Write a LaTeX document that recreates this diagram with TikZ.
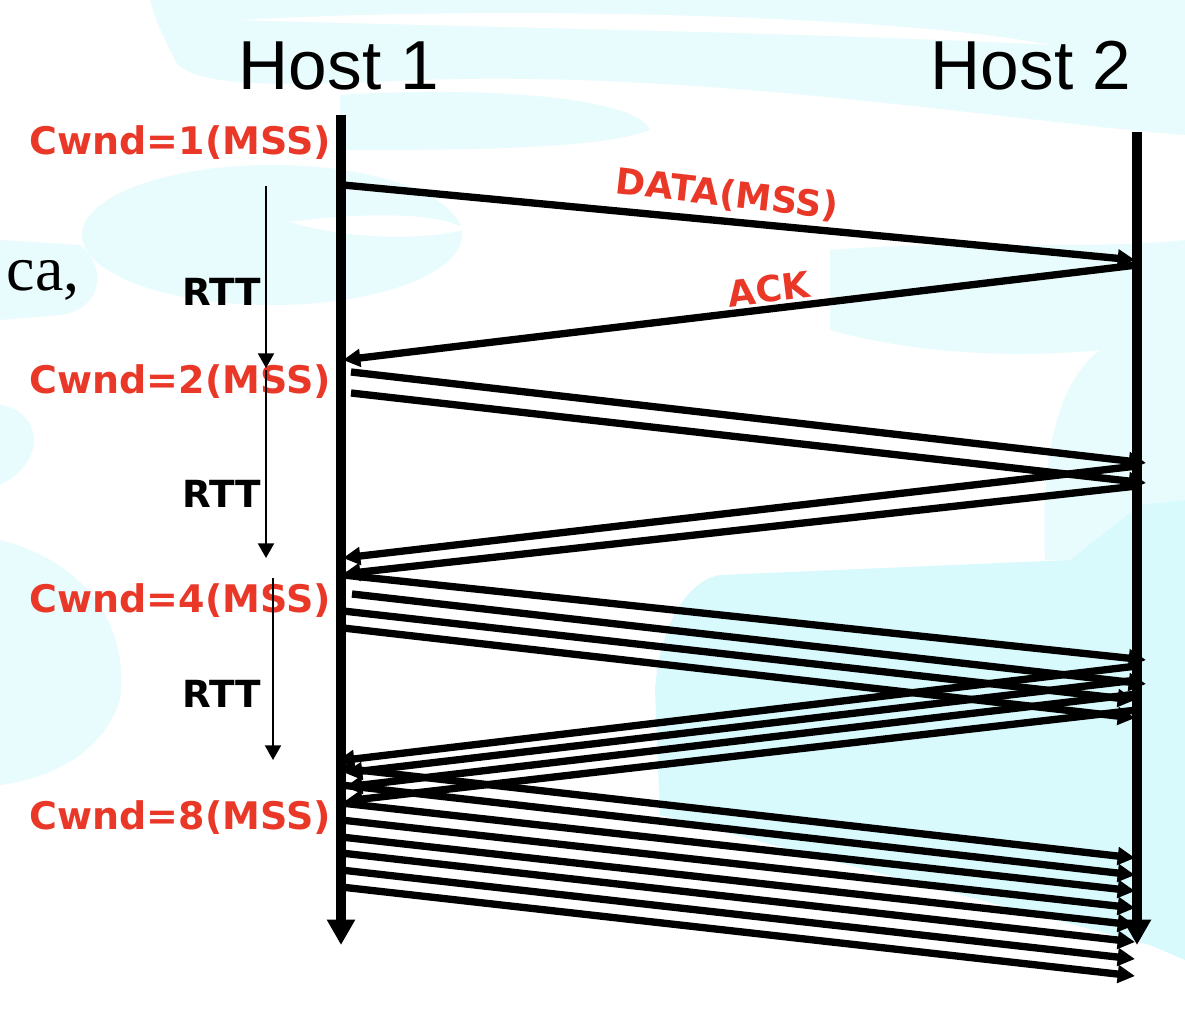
\documentclass[tikz,border=0pt]{standalone}
\usepackage{fontspec}
\setmainfont{Liberation Serif}
\newfontfamily\hostfont{Liberation Sans}
\newfontfamily\vfont{DejaVu Sans}
\usetikzlibrary{arrows.meta}
\definecolor{lblred}{RGB}{234,56,40}
\definecolor{bgA}{RGB}{233,252,253}
\definecolor{bgB}{RGB}{216,250,253}
\begin{document}
\begin{tikzpicture}[x=0.75pt,y=-0.75pt,
  hostline/.style={line width=7pt,-{Triangle[length=19pt,width=20pt]}},
  msg/.style={line width=5.5pt,-{Triangle[length=13pt,width=13pt]}},
  rttarrow/.style={line width=1.6pt,-{Triangle[length=11pt,width=12pt]}},
  hostlbl/.style={font=\hostfont\fontsize{52pt}{56pt}\selectfont,inner sep=0pt,anchor=base},
  cwnd/.style={font=\vfont\bfseries\fontsize{28.5pt}{31pt}\selectfont,text=lblred,inner sep=0pt,anchor=base east},
  rttlbl/.style={font=\vfont\bfseries\fontsize{28pt}{30pt}\selectfont,inner sep=0pt,anchor=base},
  msglbl/.style={font=\vfont\bfseries\fontsize{27pt}{30pt}\selectfont,text=lblred,inner sep=0pt},
]
\useasboundingbox (0,0) rectangle (1185,1013);
\fill[white] (0,0) rectangle (1185,1013);
% background swirls
\fill[bgA] (150,0) -- (1185,0) -- (1185,135) .. controls (1000,120) and (700,70) .. (420,80)
  .. controls (300,85) and (190,90) .. (175,60) .. controls (165,40) and (155,20) .. (150,0) -- cycle;
\fill[white] (240,20) .. controls (500,5) and (900,15) .. (1050,45) .. controls (800,32) and (500,28) .. (240,20) -- cycle;
\fill[bgA] (340,95) .. controls (500,85) and (640,100) .. (650,130) .. controls (600,150) and (450,150) .. (340,150) -- cycle;
\fill[bgA] (272,235) ellipse [x radius=190, y radius=70];
\fill[white] (290,222) .. controls (380,210) and (450,215) .. (465,230) .. controls (420,240) and (350,240) .. (290,222) -- cycle;
\fill[bgA] (0,240) -- (80,245) .. controls (110,270) and (100,310) .. (60,315) -- (0,320) -- cycle;
\fill[bgA] (0,405) .. controls (40,410) and (50,460) .. (0,485) -- cycle;
\fill[bgA] (830,250) .. controls (950,240) and (1100,250) .. (1185,240) -- (1185,560) -- (1045,560)
  .. controls (1040,450) and (1060,380) .. (1100,350) .. controls (1000,360) and (900,350) .. (830,330) -- cycle;
\fill[bgA] (0,540) .. controls (80,560) and (130,620) .. (120,700) .. controls (100,760) and (40,780) .. (0,785) -- cycle;
\fill[bgB] (655,690) .. controls (660,620) and (690,580) .. (720,575) -- (1070,560) -- (1140,505) -- (1185,500)
  -- (1185,960) -- (1150,945) -- (660,815) -- cycle;
% hosts
\coordinate (h1top) at (341,115);
\coordinate (h1bot) at (341,945);
\coordinate (h2top) at (1137,132);
\coordinate (h2bot) at (1137,945);
\node[hostlbl] (host1) at (339,90) {Host 1};
\node[hostlbl] (host2) at (1031,90) {Host 2};
\draw[hostline] (h1top) -- (h1bot);
\draw[hostline,line width=7.5pt] (h2top) -- (h2bot);
% labels
\node[font=\fontsize{48pt}{52pt}\selectfont,inner sep=0pt,anchor=base east] (ca) at (80,290) {ca,};
\node[cwnd] (c1) at (331,155) {Cwnd=1(MSS)};
\node[cwnd] (c2) at (331,393) {Cwnd=2(MSS)};
\node[cwnd] (c4) at (331,612) {Cwnd=4(MSS)};
\node[cwnd] (c8) at (331,829) {Cwnd=8(MSS)};
\node[rttlbl] (r1) at (222,305) {RTT};
\node[rttlbl] (r2) at (222,507) {RTT};
\node[rttlbl] (r3) at (222,707) {RTT};
% RTT arrows
\coordinate (ra1) at (266,186); \coordinate (rb1) at (266,368);
\coordinate (ra2) at (266,370); \coordinate (rb2) at (266,558);
\coordinate (ra3) at (273,578); \coordinate (rb3) at (273,760);
\draw[rttarrow] (ra1) -- (rb1);
\draw[rttarrow] (ra2) -- (rb2);
\draw[rttarrow] (ra3) -- (rb3);
% round 1
\coordinate (d1s) at (343,185); \coordinate (d1e) at (1135,260);
\coordinate (a1s) at (1137,265); \coordinate (a1e) at (343,360);
\draw[msg] (d1s) -- (d1e);
\draw[msg] (a1s) -- (a1e);
\node[msglbl,rotate=-6.5] (datalbl) at (727,195) {DATA(MSS)};
\node[msglbl,rotate=7] (acklbl) at (769,289) {ACK};
% round 2
\coordinate (d2as) at (351,372); \coordinate (d2ae) at (1146,463);
\coordinate (d2bs) at (351,393); \coordinate (d2be) at (1146,483);
\coordinate (a2as) at (1137,466); \coordinate (a2ae) at (343,558);
\coordinate (a2bs) at (1137,486); \coordinate (a2be) at (343,574);
\draw[msg] (d2as) -- (d2ae);
\draw[msg] (d2bs) -- (d2be);
\draw[msg] (a2as) -- (a2ae);
\draw[msg] (a2bs) -- (a2be);
% round 3
\coordinate (d3as) at (343,575); \coordinate (d3ae) at (1146,660);
\coordinate (d3bs) at (352,594); \coordinate (d3be) at (1146,684);
\coordinate (d3cs) at (343,611); \coordinate (d3ce) at (1135,700);
\coordinate (d3ds) at (343,628); \coordinate (d3de) at (1135,718);
\coordinate (a3as) at (1137,666); \coordinate (a3ae) at (337,761);
\coordinate (a3bs) at (1137,680); \coordinate (a3be) at (345,773);
\coordinate (a3cs) at (1137,694); \coordinate (a3ce) at (345,787);
\coordinate (a3ds) at (1137,710); \coordinate (a3de) at (345,801);
\foreach \m in {d3a,d3b,d3c,d3d,a3a,a3b,a3c,a3d}
  \draw[msg] (\m s) -- (\m e);
% round 4
\coordinate (d4as) at (341,768); \coordinate (d4ae) at (1135,858);
\coordinate (d4bs) at (341,785); \coordinate (d4be) at (1135,875);
\coordinate (d4cs) at (341,803); \coordinate (d4ce) at (1135,891);
\coordinate (d4ds) at (341,820); \coordinate (d4de) at (1135,908);
\coordinate (d4es) at (341,837); \coordinate (d4ee) at (1135,925);
\coordinate (d4fs) at (341,853); \coordinate (d4fe) at (1135,942);
\coordinate (d4gs) at (341,870); \coordinate (d4ge) at (1135,959);
\coordinate (d4hs) at (341,887); \coordinate (d4he) at (1135,976);
\foreach \m in {d4a,d4b,d4c,d4d,d4e,d4f,d4g,d4h}
  \draw[msg] (\m s) -- (\m e);
\end{tikzpicture}
\end{document}
